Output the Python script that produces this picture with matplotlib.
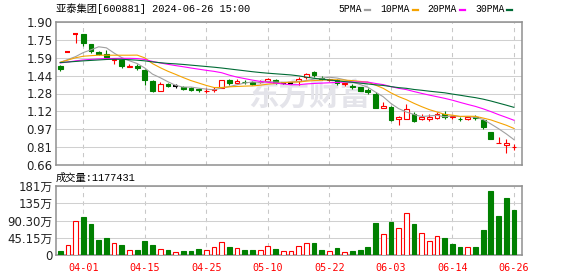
import matplotlib
matplotlib.use("Agg")
import matplotlib.pyplot as plt
from matplotlib.lines import Line2D
import numpy as np

# trading days (2024)
dates = ['03-27', '03-28', '03-29', '04-01', '04-02', '04-03', '04-08', '04-09',
         '04-10', '04-11', '04-12', '04-15', '04-16', '04-17', '04-18', '04-19',
         '04-22', '04-23', '04-24', '04-25', '04-26', '04-29', '04-30', '05-06',
         '05-07', '05-08', '05-09', '05-10', '05-13', '05-14', '05-15', '05-16',
         '05-17', '05-20', '05-21', '05-22', '05-23', '05-24', '05-27', '05-28',
         '05-29', '05-30', '05-31', '06-03', '06-04', '06-05', '06-06', '06-07',
         '06-11', '06-12', '06-13', '06-14', '06-17', '06-18', '06-19', '06-20',
         '06-21', '06-24', '06-25', '06-26']

opens = [1.52, 1.64, 1.80, 1.80, 1.71, 1.64, 1.625, 1.568, 1.57, 1.513,
         1.52, 1.48, 1.39, 1.305, 1.365, 1.345, 1.335, 1.33, 1.315, 1.303,
         1.31, 1.33, 1.395, 1.375, 1.381, 1.38, 1.376, 1.385, 1.40, 1.37,
         1.37, 1.385, 1.42, 1.47, 1.415, 1.40, 1.395, 1.365, 1.345, 1.335,
         1.31, 1.28, 1.15, 1.165, 1.055, 1.06, 1.105, 1.058, 1.058, 1.065,
         1.10, 1.08, 1.062, 1.058, 1.075, 1.05, 0.945, 0.85, 0.833, 0.815]
highs = [1.53, 1.64, 1.80, 1.80, 1.71, 1.645, 1.66, 1.575, 1.575, 1.535,
         1.535, 1.495, 1.395, 1.38, 1.37, 1.36, 1.345, 1.335, 1.33, 1.328,
         1.34, 1.40, 1.41, 1.405, 1.394, 1.385, 1.395, 1.415, 1.405, 1.375,
         1.375, 1.425, 1.46, 1.475, 1.43, 1.405, 1.405, 1.37, 1.365, 1.34,
         1.325, 1.29, 1.21, 1.17, 1.085, 1.19, 1.12, 1.10, 1.105, 1.12,
         1.13, 1.083, 1.075, 1.08, 1.09, 1.06, 0.95, 0.90, 0.882, 0.845]
lows = [1.475, 1.64, 1.72, 1.695, 1.63, 1.61, 1.58, 1.535, 1.50, 1.51,
        1.485, 1.355, 1.295, 1.30, 1.34, 1.33, 1.308, 1.305, 1.293, 1.282,
        1.29, 1.33, 1.355, 1.36, 1.36, 1.355, 1.37, 1.38, 1.365, 1.365,
        1.36, 1.355, 1.41, 1.425, 1.395, 1.39, 1.35, 1.348, 1.32, 1.30,
        1.275, 1.155, 1.15, 1.045, 1.01, 1.055, 1.03, 1.05, 1.04, 1.06,
        1.06, 1.055, 1.045, 1.05, 1.049, 0.975, 0.885, 0.85, 0.768, 0.79]
closes = [1.49, 1.64, 1.80, 1.715, 1.65, 1.62, 1.595, 1.575, 1.515, 1.518,
          1.50, 1.40, 1.305, 1.36, 1.345, 1.345, 1.32, 1.31, 1.31, 1.306,
          1.316, 1.40, 1.37, 1.39, 1.377, 1.36, 1.381, 1.405, 1.37, 1.37,
          1.37, 1.405, 1.445, 1.44, 1.41, 1.405, 1.37, 1.37, 1.34, 1.305,
          1.29, 1.155, 1.17, 1.05, 1.08, 1.145, 1.045, 1.08, 1.08, 1.105,
          1.08, 1.083, 1.058, 1.075, 1.07, 0.99, 0.885, 0.853, 0.852, 0.82]

# volume in 万 (10k)
volume = [11.3, 26.0, 89.0, 100.0, 81.0, 40.0, 45.0, 30.5, 26.0, 13.0,
          14.0, 36.6, 26.0, 15.7, 14.0, 7.9, 11.3, 11.3, 16.6, 13.0,
          20.5, 33.0, 21.0, 18.0, 13.5, 13.5, 13.0, 23.0, 16.0, 9.6,
          10.0, 22.6, 30.5, 31.0, 13.0, 9.6, 18.3, 7.0, 10.5, 13.0,
          21.0, 83.8, 54.0, 86.4, 70.0, 109.0, 81.0, 56.7, 36.6, 49.3,
          44.5, 28.8, 21.0, 21.0, 21.0, 65.4, 167.5, 102.0, 149.0, 117.7431]
vol_up = [0, 1, 1, 0, 0, 0, 0, 1, 0, 1,
          0, 0, 0, 1, 0, 1, 0, 0, 0, 1,
          1, 1, 0, 1, 0, 0, 1, 1, 0, 1,
          1, 1, 1, 0, 0, 1, 0, 1, 0, 0,
          0, 0, 1, 0, 1, 1, 0, 1, 1, 1,
          0, 0, 0, 1, 0, 0, 0, 0, 0, 0]
last_volume = 1177431

ma5 = [1.55, 1.575, 1.60, 1.635, 1.659, 1.685, 1.676, 1.631, 1.591, 1.564,
       1.540, 1.501, 1.448, 1.417, 1.382, 1.351, 1.335, 1.336, 1.326, 1.318,
       1.312, 1.328, 1.340, 1.356, 1.371, 1.380, 1.376, 1.383, 1.379, 1.377,
       1.379, 1.384, 1.392, 1.405, 1.412, 1.421, 1.414, 1.399, 1.379, 1.358,
       1.335, 1.292, 1.252, 1.194, 1.149, 1.120, 1.098, 1.080, 1.086, 1.091,
       1.078, 1.086, 1.081, 1.080, 1.073, 1.055, 1.016, 0.975, 0.930, 0.880]
ma10 = [1.551, 1.570, 1.590, 1.603, 1.608, 1.612, 1.612, 1.612, 1.612, 1.612,
        1.613, 1.589, 1.539, 1.504, 1.473, 1.446, 1.418, 1.392, 1.371, 1.350,
        1.332, 1.332, 1.338, 1.341, 1.344, 1.346, 1.352, 1.361, 1.367, 1.373,
        1.379, 1.379, 1.387, 1.392, 1.395, 1.400, 1.399, 1.396, 1.392, 1.385,
        1.378, 1.353, 1.325, 1.286, 1.253, 1.227, 1.195, 1.166, 1.140, 1.120,
        1.099, 1.092, 1.081, 1.083, 1.082, 1.067, 1.051, 1.028, 1.005, 0.977]
ma20 = [1.545, 1.553, 1.563, 1.571, 1.576, 1.580, 1.583, 1.584, 1.585, 1.585,
        1.583, 1.575, 1.558, 1.545, 1.533, 1.522, 1.512, 1.501, 1.491, 1.481,
        1.472, 1.460, 1.439, 1.422, 1.409, 1.396, 1.385, 1.377, 1.370, 1.363,
        1.356, 1.356, 1.363, 1.367, 1.370, 1.373, 1.376, 1.379, 1.380, 1.380,
        1.379, 1.367, 1.357, 1.340, 1.325, 1.314, 1.297, 1.281, 1.266, 1.252,
        1.238, 1.222, 1.203, 1.185, 1.168, 1.147, 1.123, 1.097, 1.073, 1.048]
ma30 = [1.548, 1.553, 1.558, 1.563, 1.567, 1.571, 1.575, 1.577, 1.576, 1.573,
        1.569, 1.563, 1.554, 1.547, 1.541, 1.537, 1.532, 1.526, 1.520, 1.514,
        1.508, 1.501, 1.493, 1.485, 1.477, 1.469, 1.462, 1.456, 1.451, 1.446,
        1.441, 1.433, 1.422, 1.412, 1.404, 1.397, 1.390, 1.383, 1.377, 1.370,
        1.363, 1.355, 1.350, 1.340, 1.331, 1.325, 1.315, 1.308, 1.300, 1.293,
        1.286, 1.275, 1.265, 1.254, 1.244, 1.231, 1.215, 1.197, 1.179, 1.160]

price_labels = ['0.66', '0.81', '0.97', '1.12', '1.28', '1.44', '1.59', '1.75', '1.90']
price_min, price_max = 0.66, 1.90
vol_max = 180.6

RED = '#ff0000'
GREEN = '#008000'
ma_styles = [('5PMA', ma5, '#a0a0a0'), ('10PMA', ma10, '#f5a300'),
             ('20PMA', ma20, '#ff00ff'), ('30PMA', ma30, '#006b35')]

W, H = 578, 276
fig = plt.figure(figsize=(W / 100, H / 100), dpi=100)


def fx(px):
    return px / W


def fy(py):
    return 1 - py / H


ax = fig.add_axes([fx(56), fy(165), fx(466), 143 / H])
axv = fig.add_axes([fx(56), fy(255), fx(466), 69 / H])

x = np.arange(len(closes))
tick_idx = x[3::8]
mono = ['Liberation Mono', 'Noto Sans CJK SC']


def candle_color(i):
    o, c = opens[i], closes[i]
    if c > o:
        return RED
    if c < o:
        return GREEN
    prev = closes[i - 1] if i > 0 else c
    if c > prev:
        return RED
    if c < prev:
        return GREEN
    return 'black'


for i in x:
    col = candle_color(i)
    o, c = opens[i], closes[i]
    lo, hi = min(o, c), max(o, c)
    ax.vlines(i, lows[i], highs[i], color=col, lw=0.8, zorder=3)
    if hi - lo < 0.002:
        ax.hlines(c, i - 0.33, i + 0.33, color=col, lw=1.5, zorder=4)
    else:
        ax.bar(i, hi - lo, bottom=lo, width=0.62,
               facecolor='white' if col == RED else col,
               edgecolor=col, lw=0.8, zorder=4)

for name, vals, col in ma_styles:
    ax.plot(x, vals, color=col, lw=0.8, zorder=5)

for i in x:
    col = RED if vol_up[i] else GREEN
    axv.bar(i, volume[i], width=0.62, facecolor='white' if vol_up[i] else col,
            edgecolor=col, lw=0.8, zorder=3)

# axes styling
for a in (ax, axv):
    a.set_xlim(-0.55, 60.05)
    a.set_xticks(tick_idx)
    a.xaxis.grid(True, color='#c8c8c8', lw=0.75, ls=(0, (4, 4)))
    a.yaxis.grid(True, color='#d0d0d0', lw=0.75)
    a.set_axisbelow(True)
    a.tick_params(length=0, pad=2.5, labelsize=8.5, labelcolor='#222222')
    for s in a.spines.values():
        s.set_color('#909090')
        s.set_linewidth(1.1)

ax.set_ylim(price_min, price_max)
ax.set_yticks(np.linspace(price_min, price_max, len(price_labels)))
ax.set_yticklabels(price_labels, family='DejaVu Sans')
ax.set_xticklabels([])

vol_ticks = np.linspace(0, vol_max, 5)
vol_labels = []
for v in vol_ticks:
    if v == 0:
        vol_labels.append('0')
    elif v >= 100:
        vol_labels.append('%.0f万' % v)
    else:
        vol_labels.append('%.2f万' % v)
axv.set_ylim(0, vol_max)
axv.set_yticks(vol_ticks)
axv.set_yticklabels(vol_labels, family=['DejaVu Sans', 'Noto Sans CJK SC'])
axv.set_xticklabels([dates[i] for i in tick_idx], family='DejaVu Sans Mono',
                    color=RED, fontsize=7.3)
axv.tick_params(axis='x', pad=6)

# watermark
ax.text(fx(309), fy(96), '东方财富', transform=fig.transFigure, fontsize=22,
        fontweight='bold', color='#e4e4ea', family='Noto Sans CJK SC',
        ha='center', va='center', zorder=1)

# header texts
fig.text(fx(56), fy(9), '亚泰集团[600881] 2024-06-26 15:00', family=mono,
         fontsize=7.4, color='black', ha='left', va='center')
fig.text(fx(56), fy(178), '成交量:%d' % last_volume, family=mono,
         fontsize=7.4, color='black', ha='left', va='center')

fig.canvas.draw()
renderer = fig.canvas.get_renderer()
cur = 338.7
for name, vals, col in ma_styles:
    t = fig.text(fx(cur), fy(9), name, family='Liberation Mono', fontsize=7.0,
                 color='black', ha='left', va='center')
    end = t.get_window_extent(renderer=renderer).x1
    fig.add_artist(Line2D([fx(end + 3), fx(end + 8)], [fy(9.5), fy(9.5)],
                          transform=fig.transFigure, color=col, lw=1.6))
    cur = end + 18

fig.savefig('out.png', dpi=100)
